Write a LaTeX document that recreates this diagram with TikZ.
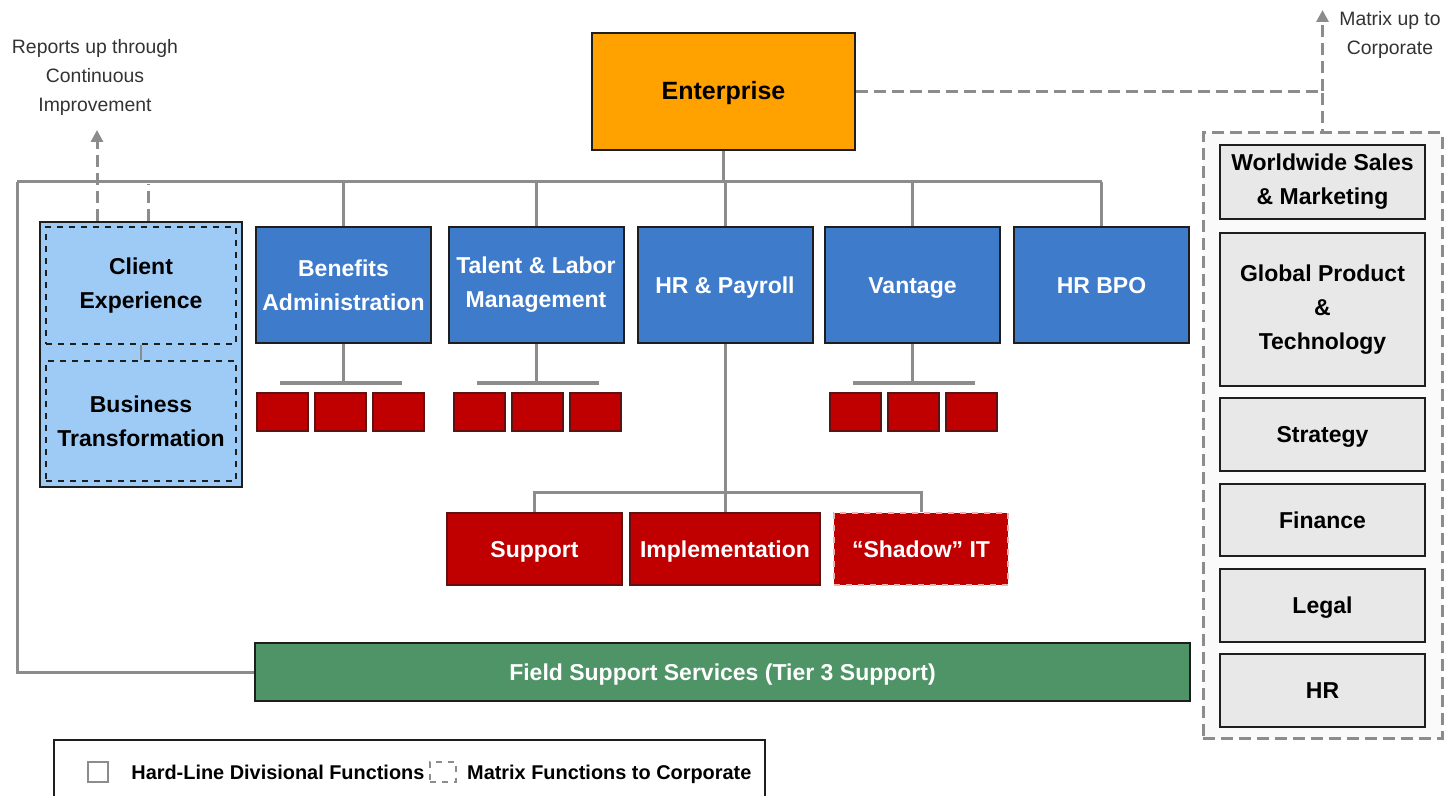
\documentclass[tikz,border=0pt]{standalone}
\usepackage{fontspec}
\setmainfont{Liberation Sans}
\usetikzlibrary{positioning, arrows.meta, calc}
\definecolor{entorange}{HTML}{FFA200}
\definecolor{divblue}{HTML}{3F7BCB}
\definecolor{cxblue}{HTML}{9ECBF6}
\definecolor{teamred}{HTML}{C00000}
\definecolor{fieldgreen}{HTML}{4E9466}
\definecolor{corpgray}{HTML}{E8E8E8}
\definecolor{linegray}{HTML}{8C8C8C}
\definecolor{edgedark}{HTML}{1E1E1E}

\begin{document}
\begin{tikzpicture}[
    x=0.5pt, y=-0.5pt,
    box/.style={draw=edgedark, line width=1pt, inner sep=0pt, align=center,
                font=\fontsize{11.5}{17}\selectfont\bfseries},
    oneline/.style={text height=8.3pt, text depth=0pt},
    entbox/.style={box, oneline, fill=entorange, minimum width=131.5pt, minimum height=58.5pt,
                   font=\fontsize{12.5}{17}\selectfont\bfseries},
    divbox/.style={box, fill=divblue, text=white, minimum width=87.5pt, minimum height=58pt},
    cxbox/.style={box, fill=cxblue, dashed, minimum width=95pt},
    teambox/.style={box, fill=teamred, draw=edgedark!60!teamred, minimum width=25.5pt,
                    minimum height=19pt},
    unitbox/.style={box, oneline, fill=teamred, draw=edgedark!60!teamred, text=white,
                    minimum height=36pt},
    corpbox/.style={box, fill=corpgray, minimum width=102.5pt},
    conn/.style={draw=linegray, line width=1.5pt},
    matrix line/.style={draw=linegray, line width=1.5pt, dash pattern=on 6pt off 3pt},
    uparrow/.style={matrix line, -{Triangle[length=6pt, width=6pt]}},
    note/.style={font=\fontsize{9.7}{14.5}\selectfont, text=black!80, align=center},
    keytext/.style={inner sep=0pt, text height=7.2pt, text depth=0pt,
                    font=\fontsize{9.95}{12}\selectfont\bfseries},
]
\useasboundingbox (0,0) rectangle (1455,796);

% === Enterprise ===
\node[entbox] (ent) at (723.5, 91.5) {Enterprise};

% === Divisions ===
\node[divbox] (benefits) at (343.5, 285) {Benefits\\Administration};
\node[divbox] (talent)   at (536, 285)   {Talent \& Labor\\Management};
\node[divbox, oneline] (hrpay)   at (725, 285)    {HR \& Payroll};
\node[divbox, oneline] (vantage) at (912.5, 285)  {Vantage};
\node[divbox, oneline] (hrbpo)   at (1101.5, 285) {HR BPO};

% === Client experience group ===
\node[box, fill=cxblue, minimum width=101pt, minimum height=132.5pt] (cxgroup) at (141, 354.5) {};
\node[cxbox, minimum height=58.5pt] (client) at (141, 285.5) {Client\\Experience};
\node[cxbox, minimum height=60pt] (bustrans) at (141, 421) {Business\\Transformation};
\draw[conn, line width=1pt] (client.south) -- (bustrans.north);

% === HR & Payroll units ===
\node[unitbox, minimum width=87.5pt] (support) at (534.5, 549) {Support};
\node[unitbox, minimum width=95pt]   (impl)    at (725, 549)   {Implementation};
\node[unitbox, minimum width=87pt, draw=teamred!30!white, dashed] (shadow) at (921, 549) {``Shadow'' IT};

% === Field support ===
\node[box, oneline, fill=fieldgreen, text=white, minimum width=467.5pt, minimum height=29pt] (field)
  at (722.5, 672) {Field Support Services (Tier 3 Support)};

% === Corporate matrix functions ===
\node[draw=linegray, line width=1.5pt, dash pattern=on 6pt off 3pt, fill=black!2,
      minimum width=119.5pt, minimum height=302.5pt, inner sep=0pt] (corp) at (1322.5, 435.5) {};
\node[corpbox, minimum height=37pt]   (sales)    at (1322.5, 182)   {Worldwide Sales\\\& Marketing};
\node[corpbox, minimum height=76.5pt] (product)  at (1322.5, 309.5) {Global Product\\\&\\Technology};
\node[corpbox, oneline, minimum height=36.5pt] (strategy) at (1322.5, 434.5) {Strategy};
\node[corpbox, oneline, minimum height=36pt]   (finance)  at (1322.5, 520)   {Finance};
\node[corpbox, oneline, minimum height=36.5pt] (legal)    at (1322.5, 605.5) {Legal};
\node[corpbox, oneline, minimum height=36.5pt] (hr)       at (1322.5, 690.5) {HR};

% === Hard lines ===
\coordinate (busL) at (17, 182);
\draw[conn] (busL) -- (hrbpo.north |- busL);
\draw[conn] (ent.south) -- (ent.south |- busL);
\foreach \dv in {benefits, talent, hrpay, vantage, hrbpo}
  \draw[conn] (\dv.north) -- (\dv.north |- busL);
\draw[conn] (busL) |- (field.west);

% team boxes under divisions
\foreach \dv/\cx in {benefits/340.5, talent/537.5, vantage/913.5} {
  \foreach \k in {1,2,3}
    \node[teambox] (\dv-\k) at ({\cx+(\k-2)*58}, 412) {};
  \draw[conn] (\dv.south) -- (\dv.south |- 0,383) coordinate (\dv-bus);
  \draw[conn] (\cx-61, 383) -- (\cx+61, 383);
}

% HR & Payroll units
\coordinate (hrbus) at (725, 492);
\draw[conn] (hrpay.south) -- (hrbus);
\draw[conn] (support.north) |- (shadow.north |- hrbus) -- (shadow.north);
\draw[conn] (hrbus) -- (impl.north);

% === Matrix lines ===
\node[note] (reports) at (95, 77) {Reports up through\\Continuous\\Improvement};
\draw[uparrow] (cxgroup.north -| 97,0) -- (97, 130);
\draw[matrix line] (cxgroup.north -| 148,0) -- (148, 184);

\node[note] (matrixup) at (1390, 35) {Matrix up to\\Corporate};
\draw[matrix line] (ent.east) -- (corp.north |- ent.east) -- (corp.north);
\draw[uparrow] (corp.north |- ent.east) -- (corp.north |- 0,10);

% === Legend ===
\node[draw=edgedark, line width=1pt, minimum width=355.5pt, minimum height=30pt, inner sep=0pt]
  (legend) at (409.5, 770) {};
\node[draw=linegray, line width=1pt, minimum width=10pt, minimum height=10pt, inner sep=0pt]
  (hardkey) at (98, 772) {};
\node[keytext, right=11pt of hardkey] (hardtxt) {Hard-Line Divisional Functions};
\node[draw=linegray, line width=1pt, dashed, minimum width=13pt, minimum height=10pt, inner sep=0pt,
      right=2pt of hardtxt] (matkey) {};
\node[keytext, right=5pt of matkey] (mattxt) {Matrix Functions to Corporate};

\end{tikzpicture}
\end{document}
